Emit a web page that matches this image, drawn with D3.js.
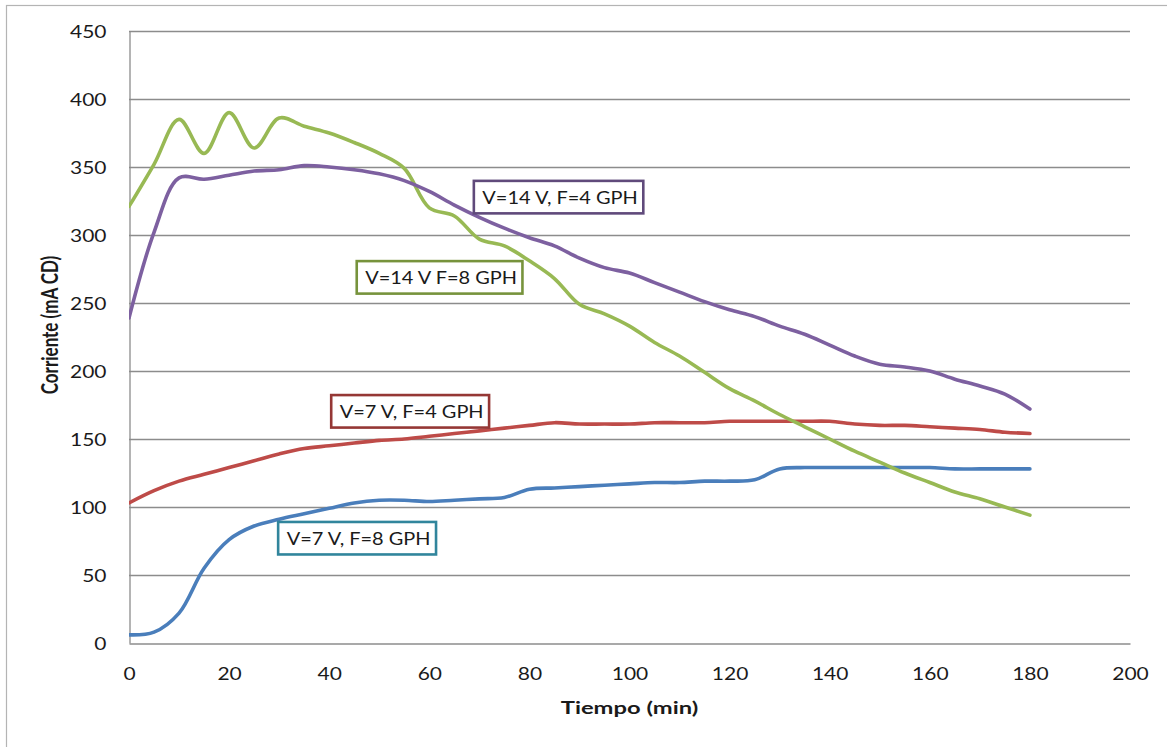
<!DOCTYPE html>
<html>
<head>
<meta charset="utf-8">
<script src="https://cdn.jsdelivr.net/npm/d3@7"></script>
<style>
  html, body { margin: 0; padding: 0; background: #fff; }
  svg { display: block; }
  text { font-family: Lato, "Open Sans", sans-serif; fill: #1a1a1a; }
</style>
</head>
<body>
<svg id="chart" width="1167" height="747"></svg>
<script>
// Sampling times (min)
const tiempo = [0,5,10,15,20,25,30,35,40,45,50,55,60,65,70,75,80,85,90,95,100,105,110,115,120,125,130,135,140,145,150,155,160,165,170,175,180];

// Current (mA CD) for each run
const v14f8 = [321,352,385,360,390,364,386,380,375,368,360,349,320,314,297,292,281,268,249,242,233,221,211,199,187,178,168,159,150,141,133,125,118,111,106,100,94];
const v14f4 = [239,302,342,341,344,347,348,351,350,348,345,340,332,322,313,305,298,292,283,276,272,265,258,251,245,240,233,227,219,211,205,203,200,194,189,183,172];
const v7f4  = [103,112,119,124,129,134,139,143,145,147,149,150,152,154,156,158,160,162,161,161,161,162,162,162,163,163,163,163,163,161,160,160,159,158,157,155,154];
const v7f8  = [6,8,22,55,76,86,91,95,99,103,105,105,104,105,106,107,113,114,115,116,117,118,118,119,119,120,128,129,129,129,129,129,129,128,128,128,128];

const xTicks = [0,20,40,60,80,100,120,140,160,180,200];
const yTicks = [0,50,100,150,200,250,300,350,400,450];

const seriesNames = ["V=7 V, F=8 GPH", "V=7 V, F=4 GPH", "V=14 V F=8 GPH", "V=14 V, F=4 GPH"];
const seriesData = [v7f8, v7f4, v14f8, v14f4];
const lineColors = ["#4a7ebb", "#be4b48", "#98b954", "#7d60a0"];
const boxColors  = ["#31859c", "#953735", "#77933c", "#604a7b"];

// Label box placement (data coordinates of the box's top-left corner)
const labelPos = [[29.8, 89.0], [40.4, 182.3], [45.5, 280.8], [68.9, 339.8]];

const SX = 1.2;   // horizontal glyph stretch
const svg = d3.select("#chart");

const margin = { left: 129, top: 31, right: 1130, bottom: 643 };
const x = d3.scaleLinear().domain([0, 200]).range([margin.left, margin.right]);
const y = d3.scaleLinear().domain([0, 450]).range([margin.bottom, margin.top]);

// outer frame
svg.append("rect")
  .attr("x", 6.5).attr("y", 5.5).attr("width", 1200).attr("height", 800)
  .attr("fill", "none").attr("stroke", "#b4b4b4").attr("stroke-width", 1.2);

// horizontal grid
svg.append("g").selectAll("line").data(yTicks.filter(d => d > 0)).join("line")
  .attr("x1", margin.left).attr("x2", margin.right)
  .attr("y1", d => Math.round(y(d)) + 0.5).attr("y2", d => Math.round(y(d)) + 0.5)
  .attr("stroke", "#8c8c8c").attr("stroke-width", 1.3);

// y axis
const yAxis = svg.append("g").attr("transform", `translate(${margin.left + 0.5},0)`)
  .call(d3.axisLeft(y).tickValues(yTicks).tickSize(0).tickPadding(0));
yAxis.select(".domain").attr("stroke", "#8c8c8c").attr("stroke-width", 1.3);
yAxis.selectAll(".tick text")
  .attr("x", null).attr("dy", null)
  .attr("transform", `translate(-23,6) scale(${SX},1)`)
  .style("font-size", "17.5px").style("font-family", "Lato, sans-serif").attr("fill", "#1a1a1a");

// x axis
const xAxis = svg.append("g").attr("transform", `translate(0,${margin.bottom + 0.5})`)
  .call(d3.axisBottom(x).tickValues(xTicks).tickSize(0).tickPadding(0));
xAxis.select(".domain").attr("stroke", "#8c8c8c").attr("stroke-width", 1.3);
xAxis.selectAll(".tick text")
  .attr("y", null).attr("dy", null)
  .attr("transform", `translate(0,36) scale(${SX},1)`)
  .style("font-size", "17.5px").style("font-family", "Lato, sans-serif").attr("fill", "#1a1a1a");

// axis titles
svg.append("text")
  .attr("transform", `translate(629.5,714) scale(1.32,1)`)
  .attr("text-anchor", "middle")
  .style("font-size", "18px").style("font-weight", "bold")
  .text("Tiempo (min)");

svg.append("text")
  .attr("transform", `translate(58,325) scale(1.3,1) rotate(-90)`)
  .attr("text-anchor", "middle")
  .style("font-size", "17px").style("font-weight", "bold")
  .text("Corriente (mA CD)");

// smoothed series lines
const line = d3.line()
  .x((d, i) => x(tiempo[i]))
  .y(d => y(d))
  .curve(d3.curveCatmullRom.alpha(0.5));

svg.append("clipPath").attr("id", "plot-clip")
  .append("rect").attr("x", margin.left).attr("y", 0)
  .attr("width", margin.right - margin.left).attr("height", margin.bottom + 2);

svg.append("g").attr("clip-path", "url(#plot-clip)")
  .selectAll("path").data(seriesData).join("path")
  .attr("d", d => line(d))
  .attr("fill", "none")
  .attr("stroke", (d, i) => lineColors[i])
  .attr("stroke-width", 3.6)
  .attr("stroke-linejoin", "round")
  .attr("stroke-linecap", "round");

// series labels in outlined boxes
const LSX = 1.14;
const labels = svg.append("g").selectAll("g").data(seriesNames).join("g")
  .attr("transform", (d, i) => `translate(${x(labelPos[i][0])},${y(labelPos[i][1])})`);

labels.append("text")
  .attr("transform", `translate(8.5,23) scale(${LSX},1)`)
  .style("font-size", "17.5px")
  .text(d => d);

labels.each(function(d, i) {
  const g = d3.select(this);
  const w = g.select("text").node().getComputedTextLength() * LSX;
  g.insert("rect", "text")
    .attr("x", 0).attr("y", 0)
    .attr("width", w + 14).attr("height", 32.5)
    .attr("fill", "#fff")
    .attr("stroke", boxColors[i])
    .attr("stroke-width", 2.6);
});
</script>
</body>
</html>
